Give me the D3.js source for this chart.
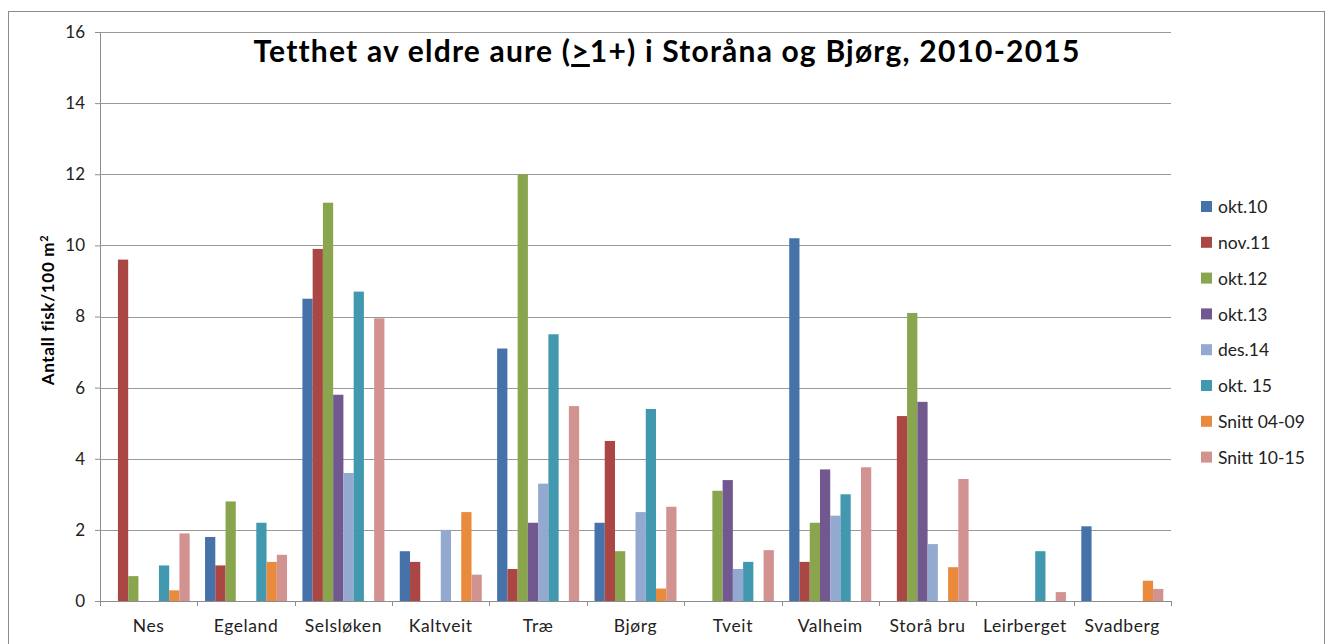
<!DOCTYPE html>
<html>
<head>
<meta charset="utf-8">
<script src="https://cdn.jsdelivr.net/npm/d3@7"></script>
<style>
  html, body { margin: 0; padding: 0; background: #fff; }
  svg { display: block; }
</style>
</head>
<body>
<div id="chart"></div>
<script>
// ── Data ────────────────────────────────────────────────────────
const sites = ['Nes', 'Egeland', 'Selsløken', 'Kaltveit', 'Træ', 'Bjørg',
               'Tveit', 'Valheim', 'Storå bru', 'Leirberget', 'Svadberg'];

const seriesNames = ['okt.10', 'nov.11', 'okt.12', 'okt.13', 'des.14',
                     'okt. 15', 'Snitt 04-09', 'Snitt 10-15'];

// one array per series, in site order (null = no bar)
const okt10   = [null, 1.8, 8.5, 1.4, 7.1, 2.2, null, 10.2, null, null, 2.1];
const nov11   = [9.6, 1.0, 9.9, 1.1, 0.9, 4.5, null, 1.1, 5.2, null, null];
const okt12   = [0.7, 2.8, 11.2, null, 12.0, 1.4, 3.1, 2.2, 8.1, null, null];
const okt13   = [null, null, 5.8, null, 2.2, null, 3.4, 3.7, 5.6, null, null];
const des14   = [null, null, 3.6, 2.0, 3.3, 2.5, 0.9, 2.4, 1.6, null, null];
const okt15   = [1.0, 2.2, 8.7, null, 7.5, 5.4, 1.1, 3.0, null, 1.4, null];
const snitt0409 = [0.3, 1.1, null, 2.5, null, 0.35, null, null, 0.95, null, 0.57];
const snitt1015 = [1.9, 1.3, 7.95, 0.74, 5.48, 2.65, 1.43, 3.76, 3.43, 0.25, 0.34];

const seriesValues = [okt10, nov11, okt12, okt13, des14, okt15, snitt0409, snitt1015];

const yTicks = [0, 2, 4, 6, 8, 10, 12, 14, 16];

const COLORS = ['#4672aa', '#aa4643', '#89a54e', '#71588f',
                '#93a9cf', '#4198af', '#e98a3c', '#d29290'];

// ── Layout ──────────────────────────────────────────────────────
const W = 1330, H = 644;
const plot = { left: 100, right: 1171, top: 32, bottom: 601 };
const FONT = "Lato, 'Open Sans', 'Liberation Sans', sans-serif";

const svg = d3.select('#chart').append('svg')
  .attr('width', W).attr('height', H)
  .attr('viewBox', `0 0 ${W} ${H}`);

// chart frame
svg.append('rect')
  .attr('x', 8.5).attr('y', 11.5).attr('width', 1316).attr('height', 640)
  .attr('fill', '#fff').attr('stroke', '#8c8c8c').attr('stroke-width', 1);

// ── Scales ──────────────────────────────────────────────────────
const x = d3.scaleBand().domain(sites).range([plot.left, plot.right]).padding(0);
const xs = d3.scaleBand().domain(d3.range(seriesNames.length))
  .range([0, x.bandwidth()]).paddingInner(0).paddingOuter(0.75);
const y = d3.scaleLinear().domain([0, 16]).range([plot.bottom, plot.top]);

// ── Gridlines + y axis ──────────────────────────────────────────
const yAxis = d3.axisLeft(y).tickValues(yTicks).tickSize(5).tickPadding(10)
  .tickFormat(d3.format('d'));
const gy = svg.append('g').attr('transform', `translate(${plot.left},0)`).call(yAxis);
gy.select('.domain').attr('stroke', '#8c8c8c');
gy.selectAll('.tick line').attr('stroke', '#8c8c8c');
gy.selectAll('.tick text').attr('font-family', FONT).attr('font-size', 17).attr('fill', '#222');

svg.append('g').selectAll('line').data(yTicks.filter(d => d > 0)).join('line')
  .attr('x1', plot.left).attr('x2', plot.right)
  .attr('y1', d => Math.round(y(d)) + 0.5).attr('y2', d => Math.round(y(d)) + 0.5)
  .attr('stroke', '#9a9a9a').attr('stroke-width', 1);

// ── Bars ────────────────────────────────────────────────────────
const bars = [];
seriesValues.forEach((vals, si) => {
  vals.forEach((v, ci) => {
    if (v != null) bars.push({ si, site: sites[ci], v });
  });
});

svg.append('g').selectAll('rect').data(bars).join('rect')
  .attr('x', d => x(d.site) + xs(d.si))
  .attr('width', xs.bandwidth())
  .attr('y', d => y(d.v))
  .attr('height', d => y(0) - y(d.v))
  .attr('fill', d => COLORS[d.si]);

// ── X axis ──────────────────────────────────────────────────────
const gx = svg.append('g').attr('transform', `translate(0,${plot.bottom})`)
  .call(d3.axisBottom(x).tickSize(0).tickPadding(19));
gx.select('.domain').attr('stroke', '#8c8c8c');
gx.selectAll('.tick text').attr('font-family', FONT).attr('font-size', 17.5)
  .attr('letter-spacing', 0.6).attr('fill', '#222');

// category boundary ticks
svg.append('g').selectAll('line').data(sites.concat(['__end'])).join('line')
  .attr('x1', (d, i) => Math.round(plot.left + i * x.step()) + 0.5)
  .attr('x2', (d, i) => Math.round(plot.left + i * x.step()) + 0.5)
  .attr('y1', plot.bottom).attr('y2', plot.bottom + 5)
  .attr('stroke', '#8c8c8c');

// ── Title ───────────────────────────────────────────────────────
const title = svg.append('text')
  .attr('x', 667).attr('y', 62)
  .attr('text-anchor', 'middle')
  .attr('font-family', FONT).attr('font-weight', 'bold').attr('font-size', 30)
  .attr('letter-spacing', 1.2)
  .attr('fill', '#000');
title.append('tspan').text('Tetthet av eldre aure (');
title.append('tspan').attr('text-decoration', 'underline').text('>');
title.append('tspan').text('1+) i Storåna og Bjørg, 2010-2015');

// ── Y axis label ────────────────────────────────────────────────
const yl = svg.append('text')
  .attr('transform', 'translate(54,310) rotate(-90)')
  .attr('text-anchor', 'middle')
  .attr('font-family', FONT).attr('font-weight', 'bold').attr('font-size', 17)
  .attr('letter-spacing', 0.7)
  .attr('fill', '#000');
yl.append('tspan').text('Antall fisk/100 m');
yl.append('tspan').attr('baseline-shift', 'super').attr('font-size', 11).text('2');

// ── Legend ──────────────────────────────────────────────────────
const legend = svg.append('g').attr('transform', 'translate(1201,207)');
const li = legend.selectAll('g').data(seriesNames).join('g')
  .attr('transform', (d, i) => `translate(0,${i * 35.8})`);
li.append('rect').attr('x', 0).attr('y', -6).attr('width', 11).attr('height', 11)
  .attr('fill', (d, i) => COLORS[i]);
li.append('text').attr('x', 17).attr('y', 0).attr('dy', '0.35em')
  .attr('font-family', FONT).attr('font-size', 17.5).attr('fill', '#222')
  .text(d => d);
</script>
</body>
</html>
